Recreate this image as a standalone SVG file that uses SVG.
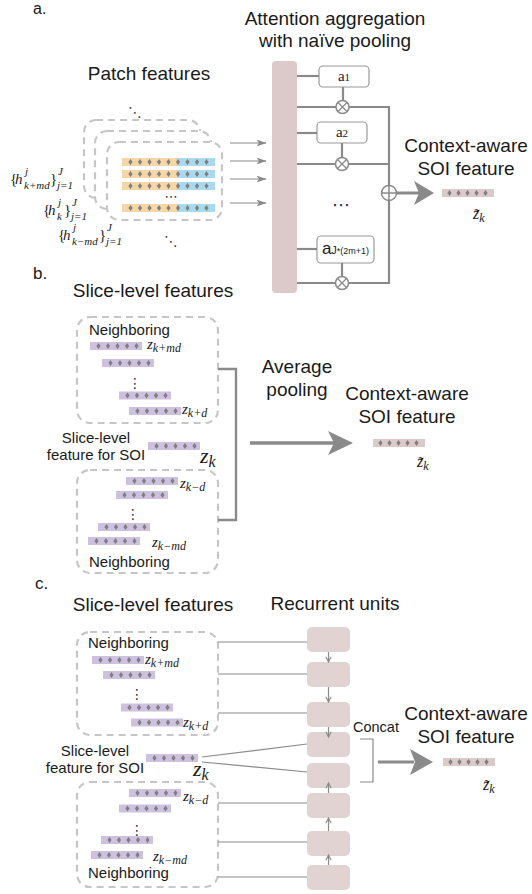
<svg xmlns="http://www.w3.org/2000/svg" width="532" height="894" viewBox="0 0 532 894">
<defs>
<style>
.t{font-family:"Liberation Sans",Arial,sans-serif;fill:#1a1a1a}
.h{font-size:19px;text-anchor:middle}
.nb{font-size:15px}
.m{font-family:"Liberation Serif","DejaVu Serif",serif;font-style:italic;fill:#1a1a1a}
.u{font-style:normal}
.s{font-size:11px}
.sym{font-family:"DejaVu Sans",sans-serif;fill:#333}
.dash{fill:#fff;stroke:#c6c6c6;stroke-width:2.2;stroke-dasharray:7 5}
.ln{stroke:#8a8a8a;stroke-width:2.2;fill:none}
.thin{stroke:#8a8a8a;stroke-width:1.2;fill:none}
.br{stroke:#8a8a8a;stroke-width:2.4;fill:none}
.ru{fill:#e2d3d3}
.ab{fill:#fff;stroke:#9a9a9a;stroke-width:1.2}
.op{fill:#fff;stroke:#8a8a8a;stroke-width:1.5}
.head{fill:#8a8a8a}
</style>
<polygon id="dia" points="0,-3 2.1,0 0,3 -2.1,0" fill="#7f7f7f"/>
<g id="lbar">
<rect width="52" height="8" fill="#cdc1df"/>
<use href="#dia" x="8.5" y="4"/><use href="#dia" x="18" y="4"/><use href="#dia" x="27.5" y="4"/><use href="#dia" x="37" y="4"/><use href="#dia" x="46.5" y="4"/>
</g>
<g id="pbar">
<rect width="52" height="8" fill="#dccaca"/>
<use href="#dia" x="7.5" y="4"/><use href="#dia" x="16.5" y="4"/><use href="#dia" x="25.5" y="4"/><use href="#dia" x="34.5" y="4"/><use href="#dia" x="43.5" y="4"/>
</g>
<g id="prow">
<rect width="55" height="8" fill="#f6d6a6"/>
<rect x="55" width="38" height="8" fill="#a9d9ee"/>
<use href="#dia" x="8.5" y="4"/><use href="#dia" x="18" y="4"/><use href="#dia" x="27.5" y="4"/><use href="#dia" x="37" y="4"/><use href="#dia" x="46.5" y="4"/><use href="#dia" x="56" y="4"/><use href="#dia" x="65.5" y="4"/><use href="#dia" x="75" y="4"/><use href="#dia" x="84.5" y="4"/>
</g>
<marker id="ah" viewBox="0 0 10 8" refX="9.5" refY="4" markerWidth="10" markerHeight="8" markerUnits="userSpaceOnUse" orient="auto">
<path d="M0,0.5 L10,4 L0,7.5 L2.5,4 z" fill="#8a8a8a"/>
</marker>
<marker id="ch" viewBox="0 0 8 8" refX="7" refY="4" markerWidth="7" markerHeight="7" markerUnits="userSpaceOnUse" orient="auto">
<path d="M1,1 L7,4 L1,7" fill="none" stroke="#8a8a8a" stroke-width="1.3"/>
</marker>
</defs>
<rect width="532" height="894" fill="#fff"/>

<!-- ===== Part a ===== -->
<g id="a-titles">
<text class="t" x="33" y="14" font-size="16">a.</text>
<text class="t h" x="335" y="25">Attention aggregation</text>
<text class="t h" x="335" y="47">with naïve pooling</text>
<text class="t h" x="149" y="80">Patch features</text>
<text class="t h" x="466" y="152">Context-aware</text>
<text class="t h" x="466" y="175">SOI feature</text>
</g>

<g id="patch-stack">
<rect class="dash" x="84" y="120" width="116" height="78" rx="12"/>
<rect class="dash" x="95" y="131" width="116" height="78" rx="12"/>
<rect class="dash" x="107" y="142" width="115" height="78" rx="12"/>
<use href="#prow" x="122" y="158"/>
<use href="#prow" x="122" y="170"/>
<use href="#prow" x="122" y="182"/>
<use href="#prow" x="122" y="204"/>
<text class="sym" x="171" y="201" font-size="13" text-anchor="middle">⋯</text>
<text class="sym" x="135" y="117" font-size="14" text-anchor="middle">⋱</text>
<text class="sym" x="171" y="246" font-size="14" text-anchor="middle">⋱</text>
</g>

<g id="patch-labels">
<text class="m" font-size="15"><tspan class="u" x="10" y="184">{</tspan><tspan x="15" y="184">h</tspan><tspan class="s" x="25" y="175">j</tspan><tspan class="s" x="24" y="189">k+md</tspan><tspan class="u" x="50" y="184">}</tspan><tspan class="s" x="58" y="175">J</tspan><tspan class="s" x="57" y="189">j=1</tspan></text>
<text class="m" font-size="15"><tspan class="u" x="43" y="215">{</tspan><tspan x="48" y="215">h</tspan><tspan class="s" x="58" y="206">j</tspan><tspan class="s" x="57" y="220">k</tspan><tspan class="u" x="64" y="215">}</tspan><tspan class="s" x="72" y="206">J</tspan><tspan class="s" x="71" y="220">j=1</tspan></text>
<text class="m" font-size="15"><tspan class="u" x="58" y="240">{</tspan><tspan x="63" y="240">h</tspan><tspan class="s" x="73" y="231">j</tspan><tspan class="s" x="72" y="245">k−md</tspan><tspan class="u" x="99" y="240">}</tspan><tspan class="s" x="107" y="231">J</tspan><tspan class="s" x="106" y="245">j=1</tspan></text>
</g>

<g id="attention-column">
<rect x="272" y="61" width="25" height="232" rx="4" fill="#dccaca"/>
</g>
<g id="a1">
<rect class="ab" x="319" y="66" width="50" height="21" rx="4"/>
<text x="344" y="81" font-family="Liberation Serif,serif" font-size="15" text-anchor="middle" fill="#1a1a1a">a<tspan font-size="11">1</tspan></text>
</g>
<g id="a2">
<rect class="ab" x="317" y="122" width="50" height="21" rx="4"/>
<text x="342" y="137" font-family="Liberation Serif,serif" font-size="15" text-anchor="middle" fill="#1a1a1a">a<tspan font-size="11">2</tspan></text>
</g>
<g id="aJ">
<rect class="ab" x="317" y="236" width="57" height="27" rx="4"/>
<text class="t" x="345.5" y="254" text-anchor="middle"><tspan font-size="17">a</tspan><tspan font-size="11">J</tspan><tspan font-size="9">*(2m+1)</tspan></text>
</g>
<g id="a-dots">
<text class="sym" x="341" y="211" font-size="18" text-anchor="middle">⋯</text>
</g>
<g id="a-output">
<use href="#pbar" x="442" y="189"/>
<text class="m" x="473" y="219" font-size="16">z̃<tspan font-size="12" dy="3">k</tspan></text>
</g>

<!-- ===== Part b ===== -->
<g id="b-titles">
<text class="t" x="33" y="279" font-size="17">b.</text>
<text class="t h" x="153" y="297">Slice-level features</text>
<text class="t h" x="297" y="373">Average</text>
<text class="t h" x="297" y="396">pooling</text>
<text class="t h" x="407" y="400">Context-aware</text>
<text class="t h" x="407" y="423">SOI feature</text>
</g>
<g id="b-neighbors-top">
<rect class="dash" x="77" y="317" width="141" height="106" rx="13"/>
<text class="t nb" x="89" y="335">Neighboring</text>
<use href="#lbar" x="90" y="342"/>
<use href="#lbar" x="102" y="359"/>
<use href="#lbar" x="119" y="391.5"/>
<use href="#lbar" x="129" y="407"/>
<text class="sym" x="135" y="388" font-size="14" text-anchor="middle">⋮</text>
<text class="m" x="147" y="349" font-size="15">z<tspan font-size="12" dy="3">k+md</tspan></text>
<text class="m" x="182" y="414" font-size="15">z<tspan font-size="12" dy="3">k+d</tspan></text>
</g>
<g id="b-soi">
<text class="t nb" x="96" y="443" text-anchor="middle">Slice-level</text>
<text class="t nb" x="96" y="460" text-anchor="middle">feature for SOI</text>
<use href="#lbar" x="148" y="442"/>
<text class="m" x="200" y="463" font-size="22">z<tspan font-size="16" dy="4">k</tspan></text>
</g>
<g id="b-neighbors-bottom">
<rect class="dash" x="77" y="470" width="141" height="103" rx="13"/>
<use href="#lbar" x="126" y="477"/>
<use href="#lbar" x="116" y="491"/>
<use href="#lbar" x="98" y="523"/>
<use href="#lbar" x="88" y="537"/>
<text class="sym" x="133" y="519" font-size="14" text-anchor="middle">⋮</text>
<text class="m" x="180" y="488" font-size="15">z<tspan font-size="12" dy="3">k−d</tspan></text>
<text class="m" x="152" y="547" font-size="15">z<tspan font-size="12" dy="3">k−md</tspan></text>
<text class="t nb" x="89" y="567">Neighboring</text>
</g>
<g id="b-output">
<use href="#pbar" x="373" y="439"/>
<text class="m" x="417" y="467" font-size="16">z̃<tspan font-size="12" dy="3">k</tspan></text>
</g>

<!-- ===== Part c ===== -->
<g id="c-titles">
<text class="t" x="35" y="589" font-size="17">c.</text>
<text class="t h" x="153" y="611">Slice-level features</text>
<text class="t h" x="335" y="610">Recurrent units</text>
<text class="t h" x="466" y="720">Context-aware</text>
<text class="t h" x="466" y="743">SOI feature</text>
<text class="t" x="353" y="732" font-size="14.5">Concat</text>
</g>
<g id="c-neighbors-top">
<rect class="dash" x="77" y="632" width="141" height="103" rx="13"/>
<text class="t nb" x="88" y="648">Neighboring</text>
<use href="#lbar" x="92" y="656"/>
<use href="#lbar" x="103" y="671"/>
<use href="#lbar" x="121" y="703.5"/>
<use href="#lbar" x="131" y="718.5"/>
<text class="sym" x="137" y="699" font-size="14" text-anchor="middle">⋮</text>
<text class="m" x="145" y="664" font-size="15">z<tspan font-size="12" dy="3">k+md</tspan></text>
<text class="m" x="183" y="727" font-size="15">z<tspan font-size="12" dy="3">k+d</tspan></text>
</g>
<g id="c-soi">
<text class="t nb" x="95" y="756" text-anchor="middle">Slice-level</text>
<text class="t nb" x="95" y="773" text-anchor="middle">feature for SOI</text>
<use href="#lbar" x="146" y="754"/>
<text class="m" x="193" y="776" font-size="22">z<tspan font-size="16" dy="4">k</tspan></text>
</g>
<g id="c-neighbors-bottom">
<rect class="dash" x="77" y="782" width="141" height="105" rx="13"/>
<use href="#lbar" x="129" y="789"/>
<use href="#lbar" x="119" y="804.5"/>
<use href="#lbar" x="101" y="836"/>
<use href="#lbar" x="91" y="851"/>
<text class="sym" x="137" y="835" font-size="14" text-anchor="middle">⋮</text>
<text class="m" x="183" y="801" font-size="15">z<tspan font-size="12" dy="3">k−d</tspan></text>
<text class="m" x="153" y="861" font-size="15">z<tspan font-size="12" dy="3">k−md</tspan></text>
<text class="t nb" x="88" y="878">Neighboring</text>
</g>
<g id="recurrent-units">
<rect id="ru1" class="ru" x="307" y="627" width="43" height="25" rx="5"/>
<rect id="ru2" class="ru" x="307" y="662" width="43" height="25" rx="5"/>
<rect id="ru3" class="ru" x="307" y="702" width="43" height="25" rx="5"/>
<rect id="ru4" class="ru" x="307" y="732" width="43" height="25" rx="5"/>
<rect id="ru5" class="ru" x="307" y="763" width="43" height="25" rx="5"/>
<rect id="ru6" class="ru" x="307" y="793" width="43" height="25" rx="5"/>
<rect id="ru7" class="ru" x="307" y="831" width="43" height="25" rx="5"/>
<rect id="ru8" class="ru" x="307" y="865" width="43" height="25" rx="5"/>
</g>
<g id="c-output">
<use href="#pbar" x="443" y="758"/>
<text class="m" x="483" y="790" font-size="16">z̃<tspan font-size="12" dy="3">k</tspan></text>
</g>

<!-- ===== Connectors ===== -->
<g id="connectors">
<!-- part a -->
<line class="thin" x1="230" y1="143" x2="266" y2="143" marker-end="url(#ah)" stroke-width="1.5"/>
<line class="thin" x1="230" y1="161" x2="266" y2="161" marker-end="url(#ah)" stroke-width="1.5"/>
<line class="thin" x1="230" y1="179" x2="266" y2="179" marker-end="url(#ah)" stroke-width="1.5"/>
<line class="thin" x1="230" y1="203" x2="266" y2="203" marker-end="url(#ah)" stroke-width="1.5"/>
<line class="ln" x1="297" y1="76" x2="319" y2="76"/>
<line class="ln" x1="297" y1="133" x2="317" y2="133"/>
<line class="ln" x1="297" y1="249" x2="317" y2="249"/>
<line class="ln" x1="343" y1="87" x2="343" y2="107"/>
<line class="ln" x1="342" y1="143" x2="342" y2="164"/>
<line class="ln" x1="342" y1="263" x2="342" y2="283"/>
<line class="ln" x1="297" y1="107" x2="389" y2="107"/>
<line class="ln" x1="297" y1="164" x2="389" y2="164"/>
<line class="ln" x1="297" y1="283" x2="389" y2="283"/>
<line class="ln" x1="389" y1="106" x2="389" y2="284"/>
<line x1="397" y1="193" x2="420" y2="193" stroke="#8a8a8a" stroke-width="3"/>
<polygon class="head" points="434,193 414,181 419,193 414,205"/>
<!-- part b -->
<path class="br" d="M218,369 H236 V520 H218"/>
<line x1="250" y1="443" x2="334" y2="443" stroke="#8a8a8a" stroke-width="3.5"/>
<polygon class="head" points="353,443 328,431 334,443 328,455"/>
<!-- part c -->
<line class="thin" x1="218" y1="642" x2="307" y2="642"/>
<line class="thin" x1="218" y1="674" x2="307" y2="674"/>
<line class="thin" x1="218" y1="713" x2="307" y2="713"/>
<line class="thin" x1="202" y1="757" x2="307" y2="744"/>
<line class="thin" x1="202" y1="762" x2="307" y2="772"/>
<line class="thin" x1="218" y1="803" x2="307" y2="803"/>
<line class="thin" x1="218" y1="842" x2="307" y2="842"/>
<line class="thin" x1="218" y1="877" x2="307" y2="877"/>
<line class="thin" x1="328.5" y1="652" x2="328.5" y2="662" marker-end="url(#ch)"/>
<line class="thin" x1="328.5" y1="687" x2="328.5" y2="702" marker-end="url(#ch)"/>
<line class="thin" x1="328.5" y1="727" x2="328.5" y2="737" marker-end="url(#ch)"/>
<line class="thin" x1="328.5" y1="793" x2="328.5" y2="783" marker-end="url(#ch)"/>
<line class="thin" x1="328.5" y1="831" x2="328.5" y2="818" marker-end="url(#ch)"/>
<line class="thin" x1="328.5" y1="865" x2="328.5" y2="855" marker-end="url(#ch)"/>
<path class="thin" d="M360,739 H373 V782 H360" stroke-width="1.5"/>
<line x1="378" y1="762" x2="414" y2="762" stroke="#8a8a8a" stroke-width="3"/>
<polygon class="head" points="433,762 410,749 415,762 410,775"/>
</g>

<!-- operators on top of connectors -->
<g id="mul1"><circle class="op" cx="342.5" cy="107" r="6.5"/><path d="M338,102.5 L347,111.5 M347,102.5 L338,111.5" stroke="#8a8a8a" stroke-width="1.3"/></g>
<g id="mul2"><circle class="op" cx="342" cy="164" r="6.5"/><path d="M337.5,159.5 L346.5,168.5 M346.5,159.5 L337.5,168.5" stroke="#8a8a8a" stroke-width="1.3"/></g>
<g id="mul3"><circle class="op" cx="342" cy="283" r="6.5"/><path d="M337.5,278.5 L346.5,287.5 M346.5,278.5 L337.5,287.5" stroke="#8a8a8a" stroke-width="1.3"/></g>
<g id="sum"><circle class="op" cx="389" cy="193" r="7.5"/><path d="M381.5,193 H396.5 M389,185.5 V200.5" stroke="#8a8a8a" stroke-width="1.5"/></g>
</svg>
